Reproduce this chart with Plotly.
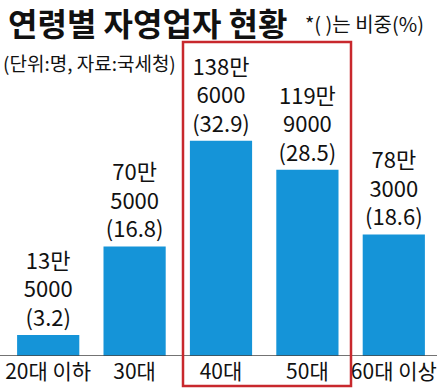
import plotly.graph_objects as go

categories = ["20대 이하", "30대", "40대", "50대", "60대 이상"]
counts = [135000, 705000, 1386000, 1199000, 783000]
shares = [3.2, 16.8, 32.9, 28.5, 18.6]

def fmt(n, s):
    man = n // 10000
    rest = n % 10000
    return f"{man}만<br>{rest}<br>({s})"

labels = [fmt(n, s) for n, s in zip(counts, shares)]

FONT = "Noto Sans CJK KR"
W, H = 443, 388
L, R, T, B = 5, 6, 41, 32
PW, PH = W - L - R, H - T - B

def px(x):
    return (x - L) / PW

def py(y):
    return (H - B - y) / PH

fig = go.Figure(go.Bar(
    x=categories, y=counts, text=labels, textposition="outside",
    textfont=dict(family=FONT, size=22, color="#111"),
    marker=dict(color="#1594d8", line=dict(width=0)),
    constraintext="none", cliponaxis=False, hoverinfo="skip",
))

fig.update_layout(
    width=W, height=H, margin=dict(l=L, r=R, t=T, b=B, autoexpand=False),
    paper_bgcolor="white", plot_bgcolor="white",
    bargap=0.28, showlegend=False,
    font=dict(family=FONT, color="#111"),
    xaxis=dict(tickfont=dict(family=FONT, size=21, color="#111"), showgrid=False,
               showline=False, ticks="", fixedrange=True, automargin=False,
               ticklabelstandoff=1),
    yaxis=dict(range=[0, 2028000], visible=False, showgrid=False, fixedrange=True,
               automargin=False),
    shapes=[
        dict(type="line", xref="paper", yref="y", x0=px(0), x1=px(437), y0=0, y1=0,
             line=dict(color="#444", width=1.5)),
        dict(type="rect", xref="paper", yref="paper", x0=px(183), x1=px(351),
             y0=py(386), y1=py(42), line=dict(color="#c8282d", width=2.5),
             fillcolor="rgba(0,0,0,0)"),
    ],
    annotations=[
        dict(text="<b>연령별 자영업자 현황</b>", xref="paper", yref="paper", x=px(6), y=py(22),
             xanchor="left", yanchor="middle", showarrow=False,
             font=dict(family=FONT, size=32, color="#111")),
        dict(text="*( )는 비중(%)", xref="paper", yref="paper", x=px(303), y=py(24),
             xanchor="left", yanchor="middle", showarrow=False,
             font=dict(family=FONT, size=20, color="#111")),
        dict(text="(단위:명, 자료:국세청)", xref="paper", yref="paper", x=px(1), y=py(63),
             xanchor="left", yanchor="middle", showarrow=False,
             font=dict(family=FONT, size=19, color="#111")),
    ],
)

fig.write_html("out.html", config={"displayModeBar": False},
               post_script="document.body.style.margin='0';")
